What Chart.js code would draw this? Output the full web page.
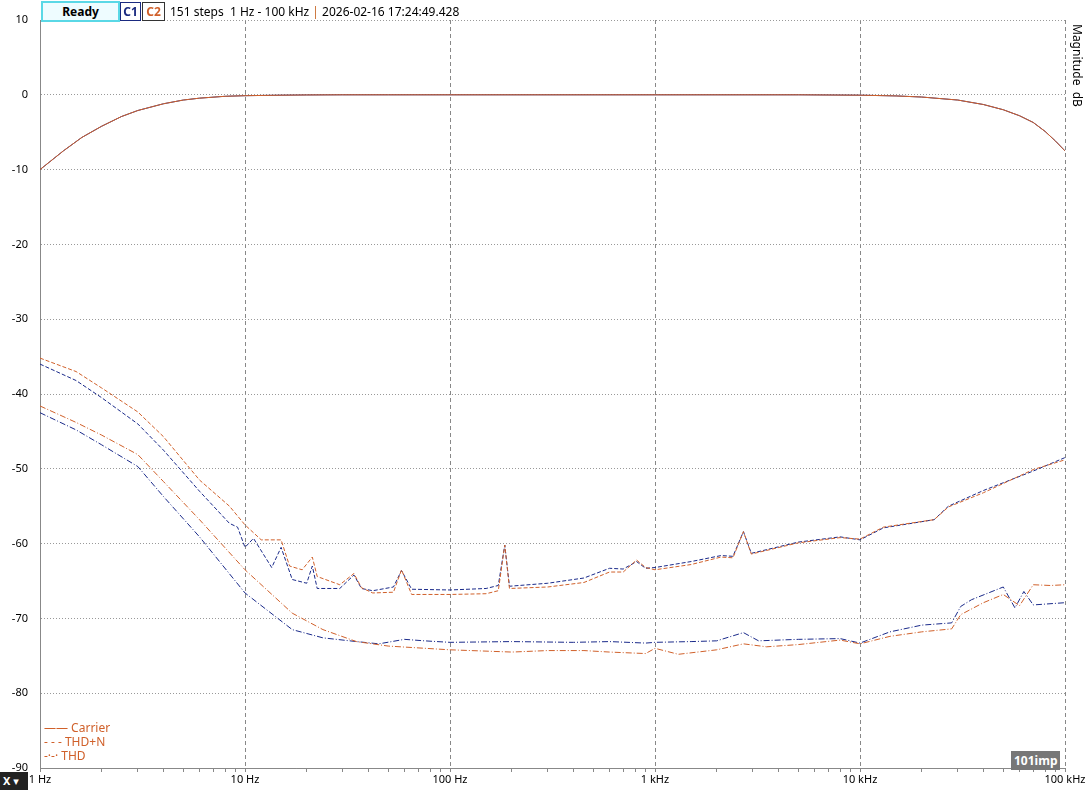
<!DOCTYPE html>
<html>
<head>
<meta charset="utf-8">
<script src="https://cdn.jsdelivr.net/npm/chart.js@4"></script>
<style>
  body { margin: 0; background: #fff; font-family: "Noto Sans", "DejaVu Sans", sans-serif; }
  #wrap { position: relative; width: 1089px; height: 790px; }
  canvas { position: absolute; left: 0; top: 0; }
  .ov { position: absolute; font-size: 12px; white-space: nowrap; }
</style>
</head>
<body>
<div id="wrap">
  <canvas id="chart" width="1089" height="790"></canvas>
  <div class="ov" style="left:41px;top:1px;width:75px;height:17px;border:2px solid #5ad8e6;background:#eefcff;text-align:center;font-weight:bold;line-height:17px;">Ready</div>
  <div class="ov" style="left:120px;top:2px;width:19px;height:17px;border:1px solid #1a2a80;color:#1a2a80;font-weight:bold;text-align:center;line-height:17px;">C1</div>
  <div class="ov" style="left:142px;top:2px;width:21px;height:17px;border:1px solid #333;color:#d0602a;font-weight:bold;text-align:center;line-height:17px;">C2</div>
  <div class="ov" style="left:170px;top:3px;">151 steps &nbsp;1 Hz - 100 kHz <span style="color:#c86a2a">|</span> 2026-02-16 17:24:49.428</div>
  <div class="ov" style="left:1069px;top:24px;writing-mode:vertical-rl;">Magnitude &nbsp;dB</div>
  <div class="ov" style="left:44px;top:721px;color:#d0602a;line-height:14px;">
    <div>&#8212;&#8212; Carrier</div>
    <div>- - - THD+N</div>
    <div>-·-· THD</div>
  </div>
  <div class="ov" style="left:0;top:772px;width:25px;height:18px;background:#222;color:#fff;font-weight:bold;line-height:18px;padding-left:3px;font-size:11px;">X ▾</div>
  <div class="ov" style="left:1011px;top:751px;background:#777;color:#fff;font-weight:bold;padding:1px 3px;">101imp</div>
</div>
<script>
const carrierF = [1,1.3,1.6,2,2.5,3,4,5,6,8,10,15,20,30,50,100,1000,5000,10000,15000,20000,30000,40000,50000,60000,70000,80000,90000,100000];
const carrierDb = [-10,-7.5,-5.7,-4.2,-2.9,-2.1,-1.2,-0.7,-0.45,-0.2,-0.12,-0.05,-0.02,0,0,0,0,0,-0.05,-0.15,-0.3,-0.7,-1.3,-2,-2.8,-3.7,-4.9,-6.2,-7.5];

const thdnC2F = [1,1.5,2,3,4,6,8.4,10,12,15,16.5,19,21.3,22.5,29,34,37,42,53,58,65,100,150,172,185,195,300,450,600,700,813,900,1000,1500,2100,2400,2700,2950,5000,8000,10000,13000,23000,27000,40000,70000,100000];
const thdnC2Db = [-35.2,-37,-39.2,-42.4,-45.7,-51.5,-55,-57.5,-59.5,-59.5,-63,-63.5,-61.8,-64.4,-65.5,-64,-65.9,-66.6,-66.5,-63.5,-66.8,-66.8,-66.7,-66.3,-60.2,-66,-65.8,-65.2,-63.8,-63.8,-62.2,-63.2,-63.5,-62.8,-61.8,-61.9,-58.4,-61.4,-59.9,-59.2,-59.4,-57.8,-56.8,-55.1,-53.2,-50.1,-48.8];

const thdnC1F = [1,1.5,2,3,4,6,8.4,9.2,10,11,13.5,15,17,20,21.3,22.5,29,34,37,42,53,58,65,100,150,172,185,195,300,450,600,700,813,900,1000,1500,2100,2400,2700,2950,5000,8000,10000,13000,23000,27000,40000,70000,100000];
const thdnC1Db = [-36,-38.2,-40.5,-44,-47.5,-53,-57.3,-57.8,-60.5,-59.3,-63.2,-60.5,-64.8,-65.3,-63,-66,-66,-64.2,-66,-66.3,-65.8,-63.6,-66.1,-66.2,-66,-65.6,-60.2,-65.7,-65.3,-64.6,-63.3,-63.4,-62.4,-63.3,-63.2,-62.4,-61.6,-61.7,-58.4,-61.3,-59.8,-59.1,-59.5,-57.9,-56.8,-55,-52.9,-50.3,-48.5];

const thdC2F = [1,1.5,2,3,4,6,10,17,24,35,50,100,200,300,450,600,900,1000,1300,2000,2700,3500,5000,8000,10000,14000,20000,28000,31000,40000,50000,60000,70000,85000,100000];
const thdC2Db = [-41.6,-43.8,-45.5,-48.1,-51.7,-56.8,-63.5,-69.3,-71.5,-73.1,-73.7,-74.2,-74.5,-74.3,-74.3,-74.5,-74.7,-74,-74.8,-74.2,-73.4,-73.8,-73.5,-72.9,-73.4,-72.4,-71.8,-71.4,-69.5,-67.9,-66.8,-68.3,-65.5,-65.6,-65.5];

const thdC1F = [1,1.5,2,3,4,6,10,17,24,35,45,60,75,100,200,400,600,900,1000,1500,2000,2700,3200,5000,8000,10000,14000,20000,28000,31000,35000,50000,57000,63000,70000,100000];
const thdC1Db = [-42.5,-44.8,-46.8,-49.7,-53.7,-59.1,-66.6,-71.5,-72.6,-73.1,-73.4,-72.8,-73,-73.2,-73.1,-73.2,-73.1,-73.3,-73.2,-73.1,-73,-71.9,-73,-72.8,-72.7,-73.3,-71.8,-70.9,-70.6,-68.4,-67.5,-65.8,-68.6,-66.4,-68.2,-67.9];

const xTickLabels = {1: "1 Hz", 10: "10 Hz", 100: "100 Hz", 1000: "1 kHz", 10000: "10 kHz", 100000: "100 kHz"};

const BLUE = "#1a2a8a";
const ORANGE = "#d0602a";

function pts(f, v) {
    return f.map((x, i) => ({x: x, y: v[i]}));
}

function line(f, v, color, dash) {
    return {
        data: pts(f, v),
        borderColor: color,
        borderWidth: 1,
        borderDash: dash,
        pointRadius: 0,
        fill: false,
        tension: 0
    };
}

// first dataset is drawn on top, so C2 (orange) goes first
new Chart(document.getElementById("chart"), {
    type: 'line',
    data: {
        datasets: [
            line(carrierF, carrierDb, ORANGE, []),
            line(thdnC2F, thdnC2Db, ORANGE, [4, 2]),
            line(thdC2F, thdC2Db, ORANGE, [6, 2, 1, 2]),
            line(carrierF, carrierDb, BLUE, []),
            line(thdnC1F, thdnC1Db, BLUE, [4, 2]),
            line(thdC1F, thdC1Db, BLUE, [6, 2, 1, 2])
        ]
    },
    options: {
        responsive: false,
        animation: false,
        layout: { padding: { top: 20, right: 24, left: 0, bottom: 0 } },
        plugins: {
            legend: { display: false },
            tooltip: { enabled: false }
        },
        scales: {
            x: {
                type: 'logarithmic',
                min: 1,
                max: 100000,
                afterBuildTicks: function (axis) {
                    let t = [];
                    for (let d = 1; d <= 100000; d *= 10) {
                        for (let m = 1; m < 10; m++) {
                            if (d * m <= 100000) t.push({value: d * m});
                        }
                    }
                    axis.ticks = t;
                },
                afterFit: function (axis) { axis.height = 22; },
                border: { color: "#888", dash: [4, 3] },
                grid: {
                    color: ctx => xTickLabels[ctx.tick && ctx.tick.value] ? "#888" : "rgba(0,0,0,0)",
                    tickColor: "#888",
                    tickLength: 4
                },
                ticks: {
                    autoSkip: false,
                    maxRotation: 0,
                    color: "#000",
                    font: { size: 11, family: "Noto Sans, DejaVu Sans, sans-serif" },
                    padding: 1,
                    callback: v => xTickLabels[v] || ""
                }
            },
            y: {
                min: -90,
                max: 10,
                afterFit: function (axis) { axis.width = 40; },
                border: { color: "#888", dash: [1, 2] },
                grid: {
                    color: "#999",
                    drawTicks: false
                },
                ticks: {
                    stepSize: 10,
                    color: "#000",
                    padding: 12,
                    font: { size: 11, family: "Noto Sans, DejaVu Sans, sans-serif" }
                }
            }
        }
    }
});
</script>
</body>
</html>
